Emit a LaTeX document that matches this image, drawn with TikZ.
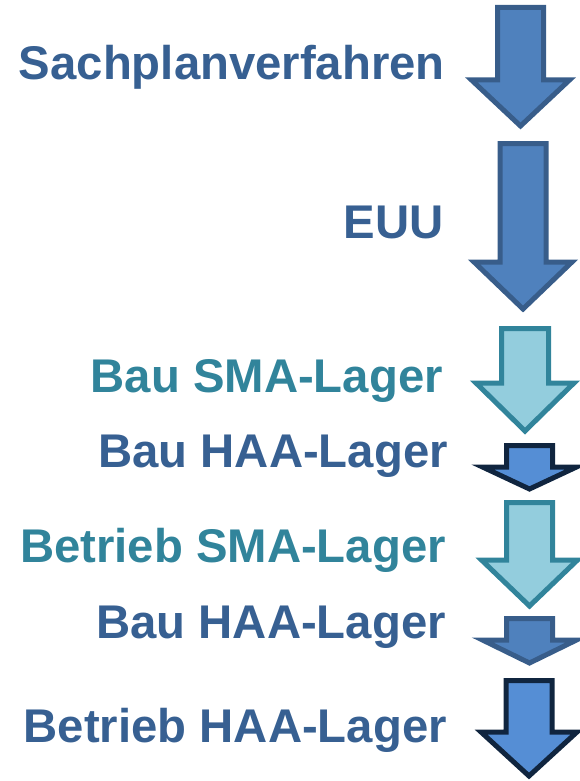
\documentclass[tikz,border=0pt]{standalone}
\usepackage{fontspec}
\setmainfont{Liberation Sans}
\usepackage{tikz}
\usetikzlibrary{positioning}
\usepackage{xcolor}

\definecolor{stepblue}{HTML}{376092}
\definecolor{stepteal}{HTML}{31849B}
\definecolor{arrowfill}{HTML}{4F81BD}
\definecolor{arrowline}{HTML}{385D8A}
\definecolor{lightfill}{HTML}{93CDDD}
\definecolor{brightfill}{HTML}{558ED5}
\definecolor{navyline}{HTML}{10253F}

% down arrow: style, centre x, top, half shaft, head base, half head, tip
\newcommand{\phasearrow}[7]{%
  \draw[#1] (#2-#4,#3) -- (#2+#4,#3) -- (#2+#4,#5) -- (#2+#6,#5)
    -- (#2,#7) -- (#2-#6,#5) -- (#2-#4,#5) -- cycle;}

\begin{document}
\begin{tikzpicture}[
    x=1pt, y=-1pt,
    phase/.style={anchor=base east, inner sep=0pt, font=\fontsize{47.3}{50}\selectfont\bfseries},
    bluearrow/.style={draw=arrowline, fill=arrowfill, line width=5pt, line join=miter},
    tealarrow/.style={draw=stepteal, fill=lightfill, line width=5pt, line join=miter},
    navyarrow/.style={draw=navyline, fill=brightfill, line width=5pt, line join=miter},
  ]
  \useasboundingbox (0,0) rectangle (580,781);

  % Phase labels
  \node[phase, text=stepblue] (plan) at (445,80) {Sachplanverfahren};
  \node[phase, text=stepblue] (euu) at (444,238) {EUU};
  \node[phase, text=stepteal] (bausma) at (443,392) {Bau SMA-Lager};
  \node[phase, text=stepblue] (bauhaa) at (448,467) {Bau HAA-Lager};
  \node[phase, text=stepteal] (betriebsma) at (446,562) {Betrieb SMA-Lager};
  \node[phase, text=stepblue] (bauhaatwo) at (446,638) {Bau HAA-Lager};
  \node[phase, text=stepblue] (betriebhaa) at (447,742) {Betrieb HAA-Lager};

  % Duration arrows
  \phasearrow{bluearrow}{520.5}{7.5}{23}{80}{49}{126}
  \phasearrow{bluearrow}{523}{143.5}{23}{262}{49}{309}
  \phasearrow{tealarrow}{525}{328.5}{23.5}{383}{49}{431}
  \phasearrow{navyarrow}{529.5}{445.5}{23}{467}{47}{489}
  \phasearrow{tealarrow}{529.5}{502.5}{23}{560}{48}{606}
  \phasearrow{bluearrow}{529.5}{618.5}{23}{640}{47}{663}
  \phasearrow{navyarrow}{529}{680.5}{23}{732}{48}{776}
\end{tikzpicture}
\end{document}
